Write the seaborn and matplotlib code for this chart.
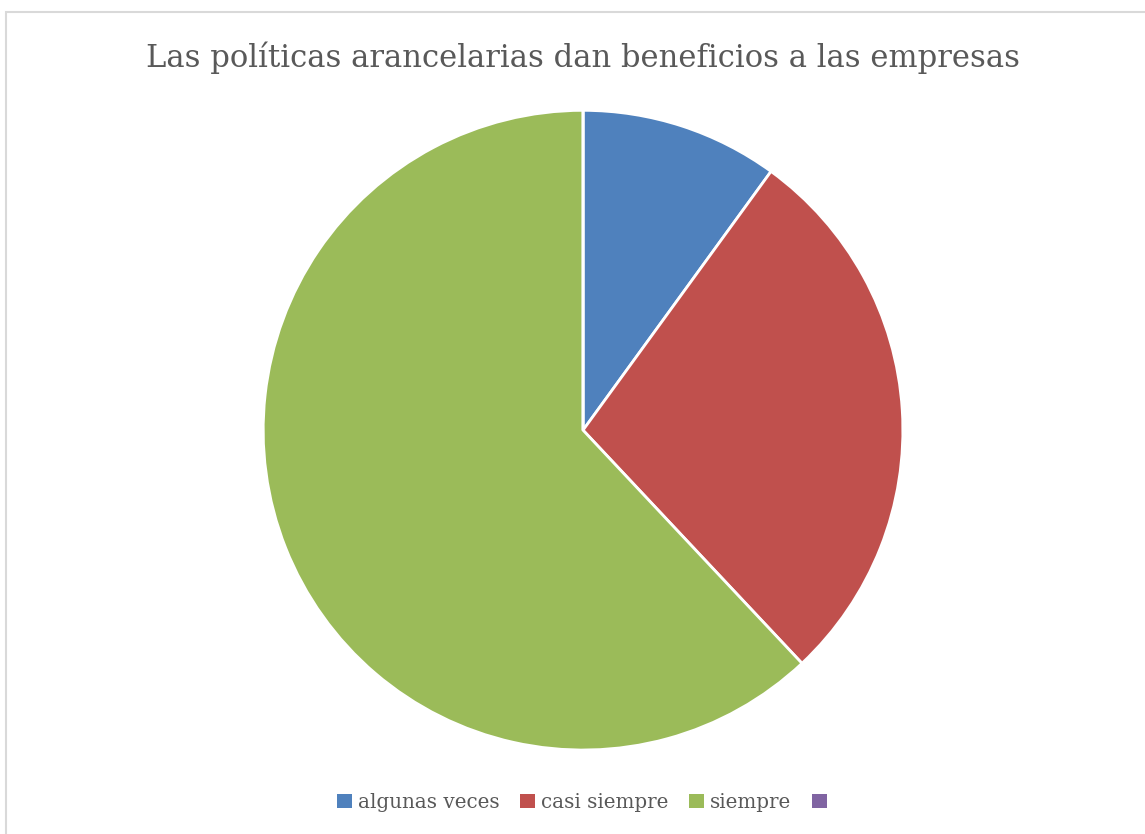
import matplotlib
matplotlib.use("Agg")
import matplotlib.pyplot as plt
from matplotlib.patches import Patch, Rectangle
import seaborn as sns

# Survey answers: share of respondents per category
categories = ["algunas veces", "casi siempre", "siempre", ""]
values = [10, 28, 62, 0]
colors = ["#4F81BD", "#C0504D", "#9BBB59", "#8064A2"]
title = "Las políticas arancelarias dan beneficios a las empresas"

sns.set_theme(style="white")
plt.rcParams["font.family"] = ["DejaVu Serif"]

fig = plt.figure(figsize=(11.45, 8.34), dpi=100)

# light grey chart-area border
fig.patches.append(Rectangle((6 / 1145, -0.01), 1.2, 1 - 12 / 834 + 0.01,
                             transform=fig.transFigure, fill=False,
                             edgecolor="#D9D9D9", linewidth=1.5))

ax = fig.add_axes([0.2297, 0.1007, 0.559, 0.767])
ax.pie(values, colors=colors, startangle=90, counterclock=False, radius=1,
       wedgeprops=dict(edgecolor="white", linewidth=2))
ax.set_xlim(-1, 1)
ax.set_ylim(-1, 1)
ax.set_aspect("equal")
ax.axis("off")

fig.text(0.509, 0.931, title, ha="center", va="center",
         fontsize=22.1, color="#595959")

handles = [Patch(facecolor=c, edgecolor="none") for c in colors]
fig.legend(handles, categories, loc="center", bbox_to_anchor=(0.511, 0.038),
           ncol=4, frameon=False, fontsize=14.3, labelcolor="#595959",
           handlelength=0.75, handleheight=0.75, handletextpad=0.3,
           columnspacing=1.05)

fig.savefig("out.png", dpi=100, facecolor="white")
